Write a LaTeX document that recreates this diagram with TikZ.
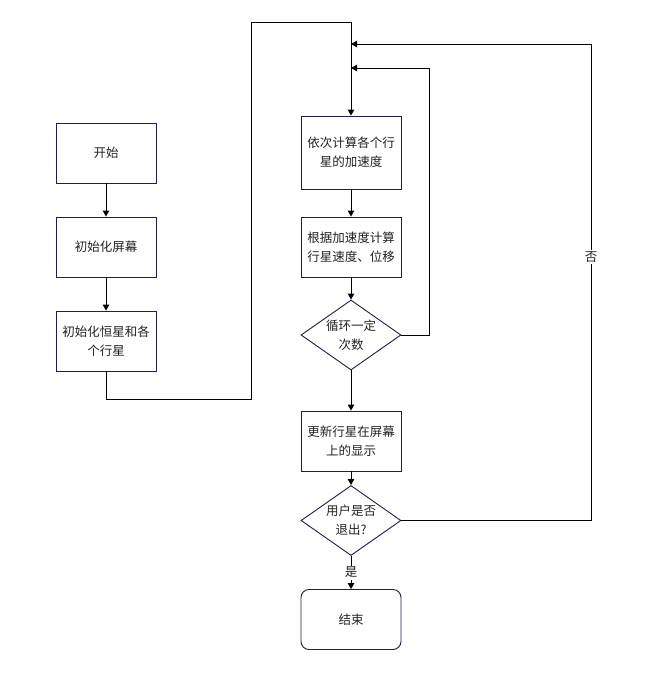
\documentclass[tikz,border=0pt]{standalone}
\usepackage{fontspec}
\setmainfont{Noto Sans CJK SC}
\usetikzlibrary{arrows.meta,shapes.geometric,positioning}
\definecolor{boxline}{HTML}{1E1E48}
\definecolor{txtgray}{HTML}{222222}
\tikzset{
proc/.style={draw=boxline,line width=0.9pt,minimum width=100pt,minimum height=60pt,align=center,inner sep=2pt,text=txtgray,font=\fontsize{12.5}{19}\selectfont},
decide/.style={diamond,draw=boxline,line width=0.9pt,minimum width=100pt,minimum height=70pt,inner sep=0pt},
dtext/.style={align=center,text=txtgray,font=\fontsize{12.5}{19}\selectfont},
arc/.style={-{Triangle[length=6pt,width=6.5pt]},line width=1pt}
}

\begin{document}
\begin{tikzpicture}[x=1pt,y=-1pt]
	\useasboundingbox (0,0) rectangle (646,675);
	% left column
	\node[proc] (start) at (106,153) {开始};
	\node[proc] (initscr) at (106,247) {初始化屏幕};
	\node[proc] (initsun) at (106,341) {初始化恒星和各\\个行星};

	% middle column
	\node[proc,minimum height=73pt] (accel) at (351,152.5) {依次计算各个行\\星的加速度};
	\node[proc] (move) at (351,247) {根据加速度计算\\行星速度、位移};
	\node[decide] (loop) at (351,335) {};
	\node[dtext] at (loop) {循环一定\\次数};
	\node[proc] (show) at (351,441) {更新行星在屏幕\\上的显示};
	\node[decide] (quit) at (351,520.5) {};
	\node[dtext] at (quit) {用户是否\\退出?};
	\node[proc,rounded corners=8pt] (stop) at (351,619.5) {结束};

	% corners of the connectors
	\coordinate (low) at (251,399);
	\coordinate (high) at (251,22);
	\coordinate (inner) at (429,68);
	\coordinate (innerin) at (351,68);
	\coordinate (outer) at (591,44);
	\coordinate (outerin) at (351,44);

	% arrows
	\draw[arc] (start) -- (initscr);
	\draw[arc] (initscr) -- (initsun);
	\draw[arc] (initsun.south) |- (low) -- (high) -| (accel.north);
	\draw[arc] (accel) -- (move);
	\draw[arc] (move) -- (loop);
	\draw[arc] (loop) -- (show);
	\draw[arc] (show) -- (quit);
	\draw[arc] (loop.east) -| (inner) -- (innerin);
	\draw[arc] (quit.east) -| (outer) -- (outerin);
	\node[fill=white,inner sep=2pt,text=txtgray,font=\fontsize{12.5}{15}\selectfont] (no) at (591,257) {否};
	\draw[arc] (quit) -- node[fill=white,inner sep=1.5pt,text=txtgray,font=\fontsize{12.5}{15}\selectfont] (yes) {是} (stop);
\end{tikzpicture}
\end{document}
